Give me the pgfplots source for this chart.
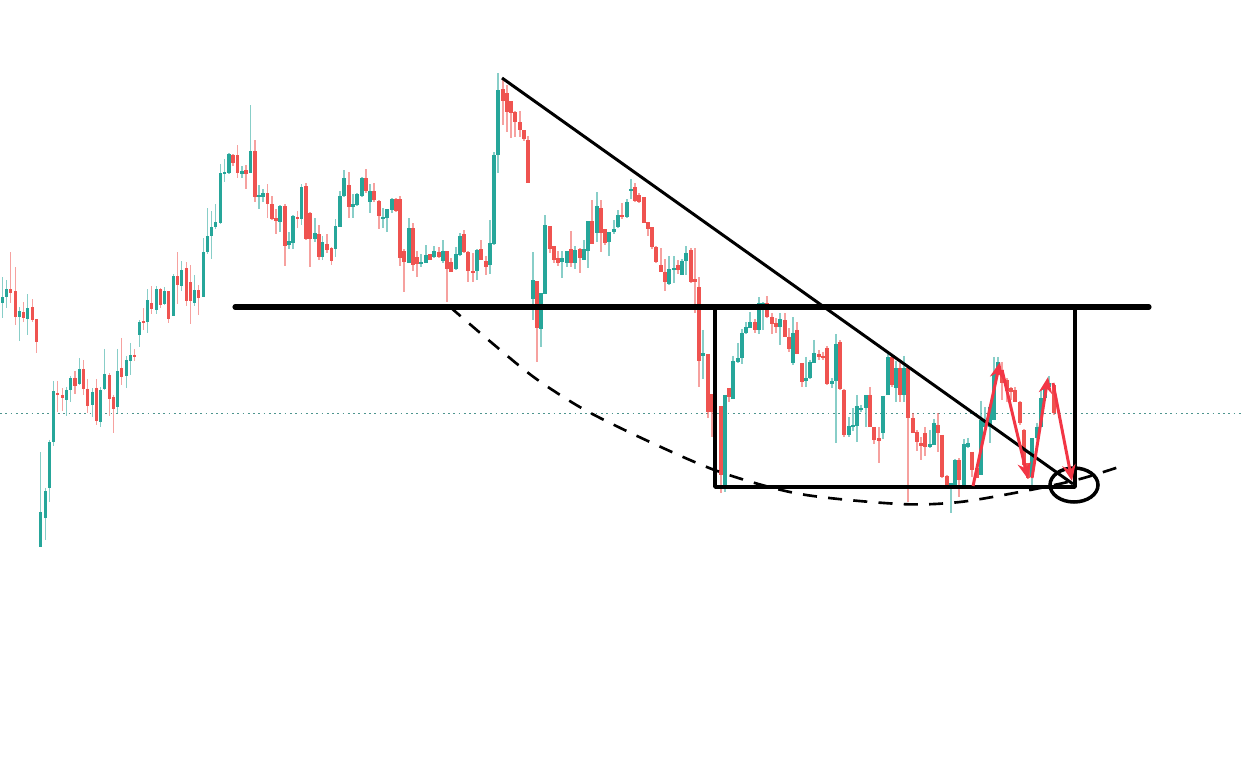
\documentclass[border=0pt]{standalone}
\usepackage{pgfplots}
\pgfplotsset{compat=1.18}
\usepackage{pgfplotstable}
\usetikzlibrary{arrows.meta}
\definecolor{cup}{HTML}{26A69A}
\definecolor{cdn}{HTML}{EF5350}
\definecolor{carrow}{HTML}{F23645}

% candles in picture units: x, wick top, wick bottom, body top, body bottom
\pgfplotstableread{
x wt wb bt bb
2.7 277 318 297 303
6.7 280 308 289 297
19.7 307 341 311 317
27.7 294 335 308 319
40.7 452 547 512 547
45.7 488 540 491 518
49.7 440 502 442 488
53.7 381 446 391 442
66.7 387 416 390 400
70.7 376 402 378 390
79.7 358 385 369 384
92.7 388 417 392 405
100.7 387 427 390 422
104.7 349 390 374 389
117.7 349 414 371 407
126.7 356 388 360 376
130.7 343 375 355 361
139.7 320 347 322 335
147.7 289 333 300 322
156.7 286 314 289 310
164.7 287 305 291 304
173.7 274 316 276 316
181.7 261 291 270 286
194.7 275 306 290 303
203.3 238 297 252 297
207.7 208 254 236 252
211.7 211 259 227 236
215.7 204 229 222 227
220.7 164 224 173 223
224.7 159 182 172 174
229 153 174 154 173
242 166 178 171 174
250.7 105 173 151 173
259 185 209 195 197
263 189 202 193 197
280 205 232 206 222
289 232 249 241 245
293 215 249 216 243
301.7 184 225 187 219
315 218 242 233 239
322.7 236 260 242 257
335.7 219 257 226 249
340 191 227 196 227
344 170 197 178 196
353 194 218 204 207
357 193 206 194 205
362 177 197 178 196
370 184 213 191 202
383 208 228 217 219
387 209 232 209 218
392 198 213 199 210
409 218 263 228 263
421 254 267 262 264
426 245 263 255 263
434 246 258 251 257
443 240 263 251 261
456 247 270 254 269
460 233 256 236 255
477 249 280 250 271
490 220 274 243 265
494 152 245 155 244
498 73 173 90 155
533 252 320 280 299
541 293 347 293 329
545 215 294 225 294
562 251 278 258 262
567 251 267 251 263
575 246 269 250 263
584 240 260 249 260
588 221 268 221 251
597 192 242 206 233
609 232 256 232 242
614 220 234 229 232
618 210 228 215 227
627 199 218 202 217
631 179 199 189 191
669 256 285 269 284
674 256 283 268 270
682 259 275 261 275
686 246 275 253 261
703 330 379 353 356
725 395 492 395 487
733 356 399 361 399
738 343 363 358 362
742 329 364 333 358
746 322 334 327 333
750 312 328 322 328
759 297 334 303 330
763 302 330 303 305
780 313 345 319 327
793 317 365 333 363
806 357 387 378 381
810 360 379 362 378
814 340 363 353 363
832 378 388 381 384
836 334 443 344 381
849 417 437 426 435
853 408 431 425 427
857 395 442 406 426
861 405 412 408 410
866 395 427 395 408
883 396 439 396 433
888 352 395 357 395
896 361 402 368 388
904 356 402 368 395
930 430 448 444 447
934 419 445 423 445
951 483 513 483 487
955 459 487 460 485
964 439 485 444 485
968 438 448 443 447
981 401 475 420 475
985 407 427 422 427
990 405 443 407 427
994 357 420 373 420
998 357 375 362 373
1032 438 485 438 477
1037 423 440 427 438
1041 390 427 398 427
1045 385 400 386 398
1049 376 388 383 387
}\up

\pgfplotstableread{
x wt wb bt bb
10.7 252 303 289 293
15.7 267 325 291 317
23.7 302 322 312 318
32.7 299 322 307 320
36.7 319 353 319 342
57.7 381 412 393 395
62.7 388 411 395 398
75 371 394 378 386
83.7 360 395 369 389
87.7 379 413 389 406
96.7 379 425 388 421
109.7 373 416 375 399
113.7 395 433 397 409
121.7 338 385 368 377
134.7 349 361 355 357
143.7 308 330 321 323
151.7 286 314 303 309
160.7 288 308 289 305
168.7 291 323 291 319
177.7 252 304 276 285
186.7 262 306 268 301
190.7 265 324 282 301
198.7 285 315 290 298
233 154 166 155 163
237.7 145 178 155 173
246 165 189 170 174
255 140 202 151 197
267.7 184 218 193 204
272 196 220 204 219
276 209 234 218 221
285 204 266 206 246
297.7 211 228 217 219
306 183 240 186 239
310 212 267 213 239
319 225 260 234 257
327 234 253 244 250
331.7 247 265 248 261
349 172 218 185 207
366 169 193 178 191
374 183 202 191 200
379 200 229 201 216
396 198 212 199 211
400 196 266 199 258
404 249 292 251 262
413 223 271 228 265
417 251 277 257 264
430 254 260 254 260
439 247 258 252 257
447 251 302 251 269
451 258 272 262 272
464 230 253 234 252
468 251 282 252 271
473 253 282 271 273
481 240 260 249 260
486 256 275 261 267
503 78 125 89 101
507 85 132 93 112
511 101 138 101 113
515 111 137 112 122
520 111 137 122 130
524 130 141 130 139
528 136 183 140 183
537 281 362 281 328
550 226 253 226 249
554 246 263 246 260
558 251 266 258 263
571 231 267 249 263
580 248 273 249 258
592 200 244 221 244
601 200 252 208 233
605 229 245 229 243
622 203 219 215 217
635 183 202 187 201
639 193 203 195 202
644 197 223 197 223
648 222 236 222 229
652 227 249 227 247
656 246 263 247 262
661 248 272 265 272
665 259 291 272 282
678 260 274 265 270
691 248 283 250 282
695 248 313 279 282
699 277 387 287 361
708 354 418 354 412
712 394 437 394 412
721 406 493 406 475
729 388 402 388 397
755 319 333 322 330
767 296 318 303 317
772 313 334 317 324
776 318 333 323 327
785 313 337 320 337
789 328 352 337 349
797 322 354 330 354
802 363 387 363 382
819 350 360 354 357
823 352 360 356 358
827 346 385 348 384
840 340 390 342 389
844 389 437 390 435
870 387 427 395 427
874 427 444 427 440
879 427 463 438 441
892 355 387 357 385
900 363 402 368 395
908 367 502 368 418
913 413 433 418 433
917 430 451 432 442
921 437 460 443 446
925 427 456 433 447
938 413 452 425 433
942 435 478 435 477
947 475 487 476 485
959 458 497 460 480
972 452 477 452 470
977 468 478 468 478
1002 362 400 370 383
1007 378 402 380 391
1011 387 400 388 392
1015 387 402 390 402
1020 401 425 402 423
1024 429 470 430 465
1028 463 479 463 478
1054 384 415 385 413
}\down

\begin{document}
\begin{tikzpicture}
\begin{axis}[
    scale only axis,
    width=12.42cm, height=7.70cm,
    xmin=0, xmax=1242, ymin=0, ymax=770,
    y dir=reverse,
    hide axis,
    clip=true,
]
% keep the full page
\addplot[draw=none, forget plot] coordinates {(0,0) (1242,770)};

% reference price line
\addplot[cup!55!gray, line width=0.28pt, dash pattern=on 0.5pt off 1pt] coordinates {(0,413) (1242,413)};

% wicks
\addplot[cup, opacity=0.55, line width=0.42pt, mark=none,
    quiver={u=0, v=\thisrow{wb}-\thisrow{wt}}] table[x=x, y=wt] {\up};
\addplot[cdn, opacity=0.55, line width=0.42pt, mark=none,
    quiver={u=0, v=\thisrow{wb}-\thisrow{wt}}] table[x=x, y=wt] {\down};
% bodies
\addplot[cup, line width=0.95pt, mark=none,
    quiver={u=0, v=\thisrow{bb}-\thisrow{bt}}] table[x=x, y=bt] {\up};
\addplot[cdn, line width=0.95pt, mark=none,
    quiver={u=0, v=\thisrow{bb}-\thisrow{bt}}] table[x=x, y=bt] {\down};

% rounding bottom (dashed)
\addplot[black, line width=0.75pt, dash pattern=on 4pt off 3.2pt, smooth] coordinates {
    (450,307) (492,343) (535,378) (585,410) (650,442) (720,472)
    (800,494) (900,504) (960,502) (1030,490) (1080,479) (1122,466)};

% neckline
\addplot[black, line width=1.45pt, line cap=round] coordinates {(235,307) (1149,307)};
% falling trend line
\addplot[black, line width=0.85pt] coordinates {(502,78) (1073,484)};
% range box
\addplot[black, line width=1.05pt, line join=round] coordinates {(715,307) (715,487) (1075,487) (1075,307)};
\draw[black, line width=1pt] (axis cs:1074,485) ellipse [x radius=24, y radius=17];

% zigzag arrows
\addplot[carrow, line width=0.85pt, -{Stealth[length=4.6pt, width=3.8pt]}] coordinates {(973,486) (1000,362)};
\addplot[carrow, line width=0.85pt, -{Stealth[length=4.6pt, width=3.8pt]}] coordinates {(1002,370) (1028,479)};
\addplot[carrow, line width=0.85pt, -{Stealth[length=4.6pt, width=3.8pt]}] coordinates {(1032,478) (1048,377)};
\addplot[carrow, line width=0.85pt, -{Stealth[length=4.6pt, width=3.8pt]}] coordinates {(1053,383) (1072,481)};
\end{axis}
\end{tikzpicture}
\end{document}
